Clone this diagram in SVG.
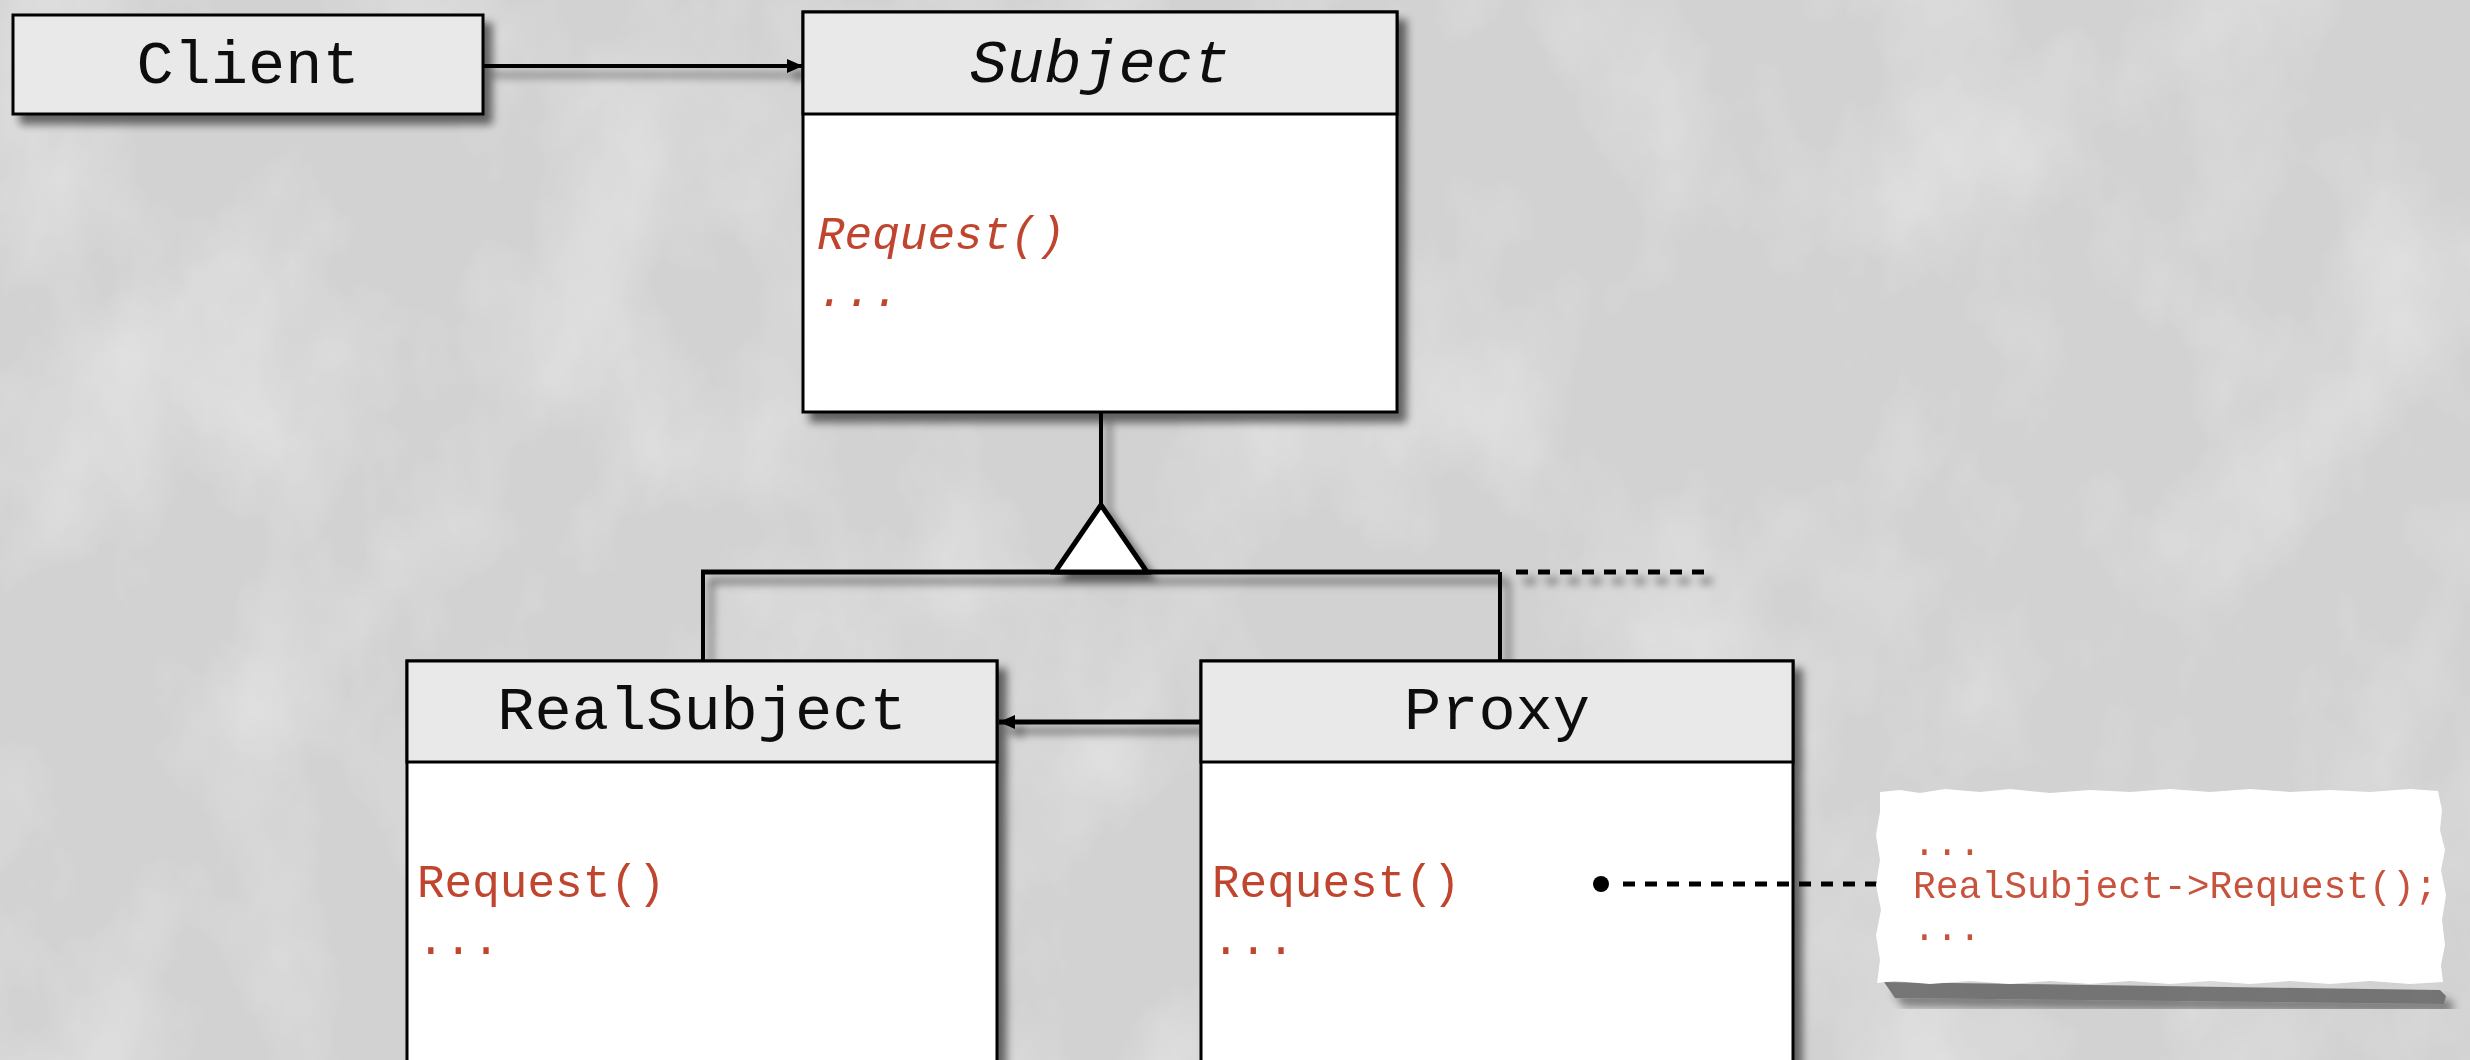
<svg xmlns="http://www.w3.org/2000/svg" width="2470" height="1060" viewBox="0 0 2470 1060">
<defs>
  <filter id="paper" x="0" y="0" width="100%" height="100%">
    <feTurbulence type="fractalNoise" baseFrequency="0.006 0.004" numOctaves="5" seed="11" result="n"/>
    <feColorMatrix in="n" type="matrix" values="0 0 0 0 0  0 0 0 0 0  0 0 0 0 0  0.7 0 0 0 -0.3" result="a"/>
    <feFlood flood-color="#ffffff" result="w"/>
    <feComposite in="w" in2="a" operator="in" result="hl"/>
    <feMerge><feMergeNode in="SourceGraphic"/><feMergeNode in="hl"/></feMerge>
  </filter>
  <filter id="shadow" x="-10%" y="-10%" width="130%" height="130%">
    <feDropShadow dx="8" dy="9" stdDeviation="4" flood-color="#000" flood-opacity="0.55"/>
  </filter>
  <filter id="soft" x="-5%" y="-20%" width="115%" height="150%">
    <feGaussianBlur stdDeviation="0.4"/>
  </filter>
  <marker id="arrow" viewBox="0 0 16 14" refX="16" refY="7" markerWidth="16" markerHeight="14" markerUnits="userSpaceOnUse" orient="auto">
    <path d="M0,0 L16,7 L0,14 Z" fill="#000"/>
  </marker>
</defs>
<style>
  .hdr { fill: #e9e9e9; stroke: #000; stroke-width: 3; }
  .body { fill: #ffffff; stroke: #000; stroke-width: 3; }
  .title { font-family: "Liberation Mono", "Courier New", monospace; font-size: 62px; fill: #111; text-anchor: middle; }
  .member { font-family: "Liberation Mono", "Courier New", monospace; font-size: 46px; fill: #c0452f; }
  .note { font-family: "Liberation Mono", "Courier New", monospace; font-size: 38px; fill: #c8533e; }
  .line { stroke: #000; stroke-width: 4; fill: none; }
  .thick { stroke: #000; stroke-width: 5; fill: none; }
  .dash { stroke: #000; stroke-width: 5; fill: none; stroke-dasharray: 12 10; }
</style>
<rect x="0" y="0" width="2470" height="1060" fill="#d2d2d2" filter="url(#paper)"/>

<g id="connectors" filter="url(#shadow)">
  <line class="line" x1="483" y1="66" x2="803" y2="66" marker-end="url(#arrow)"/>
  <line class="line" x1="1101" y1="412" x2="1101" y2="505"/>
  <line class="thick" x1="701" y1="572" x2="1500" y2="572"/>
  <line class="dash" x1="1516" y1="572" x2="1706" y2="572"/>
  <line class="line" x1="703" y1="572" x2="703" y2="661"/>
  <line class="line" x1="1500" y1="572" x2="1500" y2="661"/>
  <polygon points="1101,505 1147,572 1055,572" fill="#fff" stroke="#000" stroke-width="5" stroke-linejoin="miter"/>
  <line class="thick" x1="1201" y1="722" x2="999" y2="722" marker-end="url(#arrow)"/>
</g>

<g id="client" filter="url(#shadow)">
  <rect class="hdr" x="13" y="15" width="470" height="99"/>
  <text class="title" x="248" y="83">Client</text>
</g>

<g id="subject" filter="url(#shadow)">
  <rect class="body" x="803" y="12" width="594" height="400"/>
  <rect class="hdr" x="803" y="12" width="594" height="102"/>
  <text class="title" x="1100" y="82" font-style="italic">Subject</text>
  <text class="member" x="817" y="249" font-style="italic">Request()</text>
  <text class="member" x="817" y="306" font-style="italic">...</text>
</g>

<g id="realsubject" filter="url(#shadow)">
  <rect class="body" x="407" y="661" width="590" height="420"/>
  <rect class="hdr" x="407" y="661" width="590" height="101"/>
  <text class="title" x="702" y="729">RealSubject</text>
  <text class="member" x="417" y="897">Request()</text>
  <text class="member" x="417" y="954">...</text>
</g>

<g id="proxy" filter="url(#shadow)">
  <rect class="body" x="1201" y="661" width="592" height="420"/>
  <rect class="hdr" x="1201" y="661" width="592" height="101"/>
  <text class="title" x="1497" y="729">Proxy</text>
  <text class="member" x="1212" y="897">Request()</text>
  <text class="member" x="1212" y="954">...</text>
</g>

<g id="note-link">
  <circle cx="1601" cy="884" r="8" fill="#000"/>
  <line class="dash" x1="1623" y1="884" x2="1880" y2="884"/>
</g>

<g id="note">
  <path d="M1884,982 L2440,990 L2446,996 L2444,1004 L1895,998 Z" fill="#555" opacity="0.75" filter="url(#shadow)"/>
  <path d="M1880,792 L1900,790 L1920,793 L1945,789 L1980,792 L2010,789 L2050,793 L2090,790 L2130,792 L2170,789 L2210,792 L2250,789 L2290,792 L2330,790 L2370,792 L2410,789 L2438,791 L2442,810 L2440,830 L2445,850 L2441,870 L2446,895 L2442,920 L2445,945 L2441,965 L2443,982 L2410,984 L2370,981 L2330,984 L2290,981 L2250,984 L2210,981 L2170,984 L2130,981 L2090,984 L2050,981 L2010,984 L1970,981 L1930,984 L1895,981 L1877,983 L1880,960 L1876,935 L1881,910 L1876,885 L1880,860 L1876,835 L1880,812 Z" fill="#ffffff"/>
  <g filter="url(#soft)">
    <text class="note" x="1913" y="855">...</text>
    <text class="note" x="1913" y="898">RealSubject-&gt;Request();</text>
    <text class="note" x="1913" y="940">...</text>
  </g>
</g>
</svg>
